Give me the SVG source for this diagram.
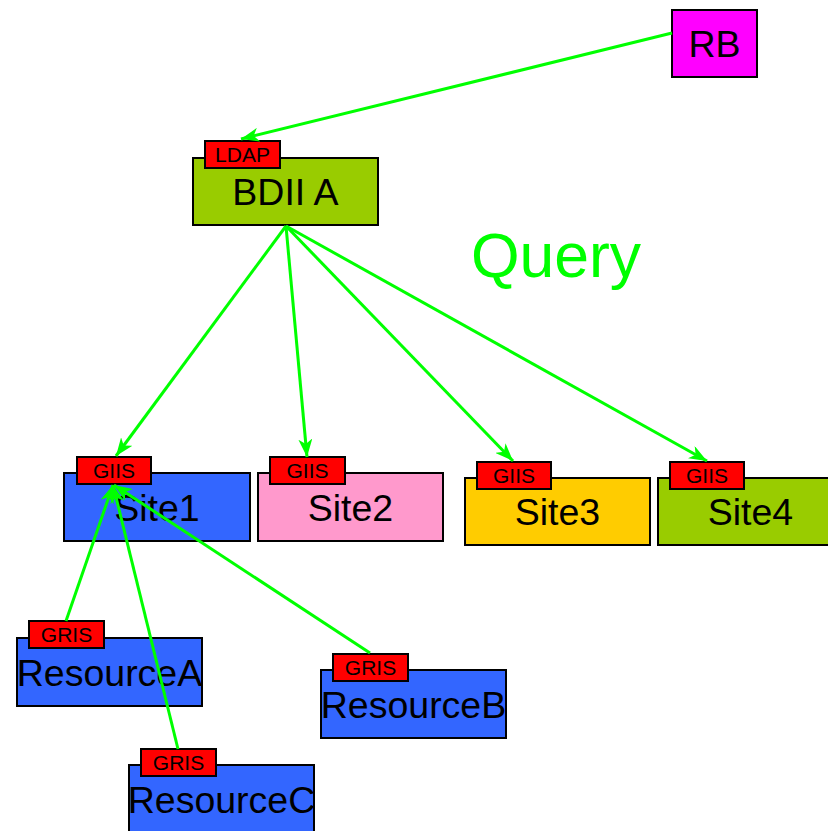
<svg xmlns="http://www.w3.org/2000/svg" width="828" height="831" viewBox="0 0 828 831">
<defs>
<style>
.box{stroke:#000;stroke-width:2}
.tag{fill:#ff0000;stroke:#000;stroke-width:2}
.lbl{font-family:"Liberation Sans",Arial,sans-serif;font-size:37.5px;fill:#000;text-anchor:middle}
.tl{font-family:"Liberation Sans",Arial,sans-serif;font-size:21px;fill:#000;text-anchor:middle}
.edge{stroke:#00ff00;stroke-width:3;fill:none;marker-end:url(#arr)}
</style>
<marker id="arr" markerUnits="userSpaceOnUse" viewBox="0 0 18 14" markerWidth="18" markerHeight="14" refX="18" refY="7" orient="auto">
<path d="M0,0 L18,7 L0,14 L5,7 z" fill="#00ff00"/>
</marker>
</defs>
<rect width="828" height="831" fill="#fff"/>

<g id="RB">
<rect class="box" x="672" y="10" width="85" height="67" fill="#ff00ff"/>
<text class="lbl" x="714.5" y="57">RB</text>
</g>

<g id="BDII_A">
<rect class="box" x="193" y="158" width="185" height="67" fill="#99cc00"/>
<text class="lbl" x="285.5" y="205">BDII A</text>
<rect class="tag" x="205" y="141" width="75" height="27"/>
<text class="tl" x="242.5" y="162">LDAP</text>
</g>

<g id="Site1">
<rect class="box" x="64" y="473" width="186" height="68" fill="#3366ff"/>
<text class="lbl" x="157" y="520.5">Site1</text>
<rect class="tag" x="77" y="457" width="74" height="27"/>
<text class="tl" x="114" y="478">GIIS</text>
</g>

<g id="Site2">
<rect class="box" x="258" y="473" width="185" height="68" fill="#ff99cc"/>
<text class="lbl" x="350.5" y="520.5">Site2</text>
<rect class="tag" x="270" y="457" width="75" height="27"/>
<text class="tl" x="307.5" y="478">GIIS</text>
</g>

<g id="Site3">
<rect class="box" x="465" y="478" width="185" height="67" fill="#ffcc00"/>
<text class="lbl" x="557.5" y="525">Site3</text>
<rect class="tag" x="477" y="462" width="74" height="27"/>
<text class="tl" x="514" y="483">GIIS</text>
</g>

<g id="Site4">
<rect class="box" x="658" y="478" width="185" height="67" fill="#99cc00"/>
<text class="lbl" x="750.5" y="525">Site4</text>
<rect class="tag" x="670" y="462" width="74" height="27"/>
<text class="tl" x="707" y="483">GIIS</text>
</g>

<g id="ResourceA">
<rect class="box" x="17" y="638" width="185" height="68" fill="#3366ff"/>
<text class="lbl" x="109.5" y="685.5">ResourceA</text>
<rect class="tag" x="29" y="621" width="75" height="27"/>
<text class="tl" x="66.5" y="642">GRIS</text>
</g>

<g id="ResourceB">
<rect class="box" x="321" y="670" width="185" height="68" fill="#3366ff"/>
<text class="lbl" x="413.5" y="717.5">ResourceB</text>
<rect class="tag" x="333" y="654" width="75" height="27"/>
<text class="tl" x="370.5" y="675">GRIS</text>
</g>

<g id="ResourceC">
<rect class="box" x="129" y="765" width="185" height="68" fill="#3366ff"/>
<text class="lbl" x="221.5" y="812.5">ResourceC</text>
<rect class="tag" x="141" y="749" width="75" height="27"/>
<text class="tl" x="178.5" y="770">GRIS</text>
</g>

<g id="query-label">
<text x="556" y="277" font-family="'Liberation Sans',Arial,sans-serif" font-size="62.5" fill="#00ff00" text-anchor="middle">Query</text>
</g>

<g id="connectors">
<line class="edge" x1="672" y1="33" x2="241" y2="139"/>
<line class="edge" x1="286" y1="226" x2="116" y2="456"/>
<line class="edge" x1="286" y1="226" x2="307" y2="457"/>
<line class="edge" x1="286" y1="226" x2="513" y2="461"/>
<line class="edge" x1="286" y1="226" x2="707" y2="461"/>
<line class="edge" x1="66" y1="621" x2="113" y2="485"/>
<line class="edge" x1="178" y1="749" x2="113" y2="485"/>
<line class="edge" x1="370" y1="653" x2="114" y2="485"/>
</g>
</svg>
